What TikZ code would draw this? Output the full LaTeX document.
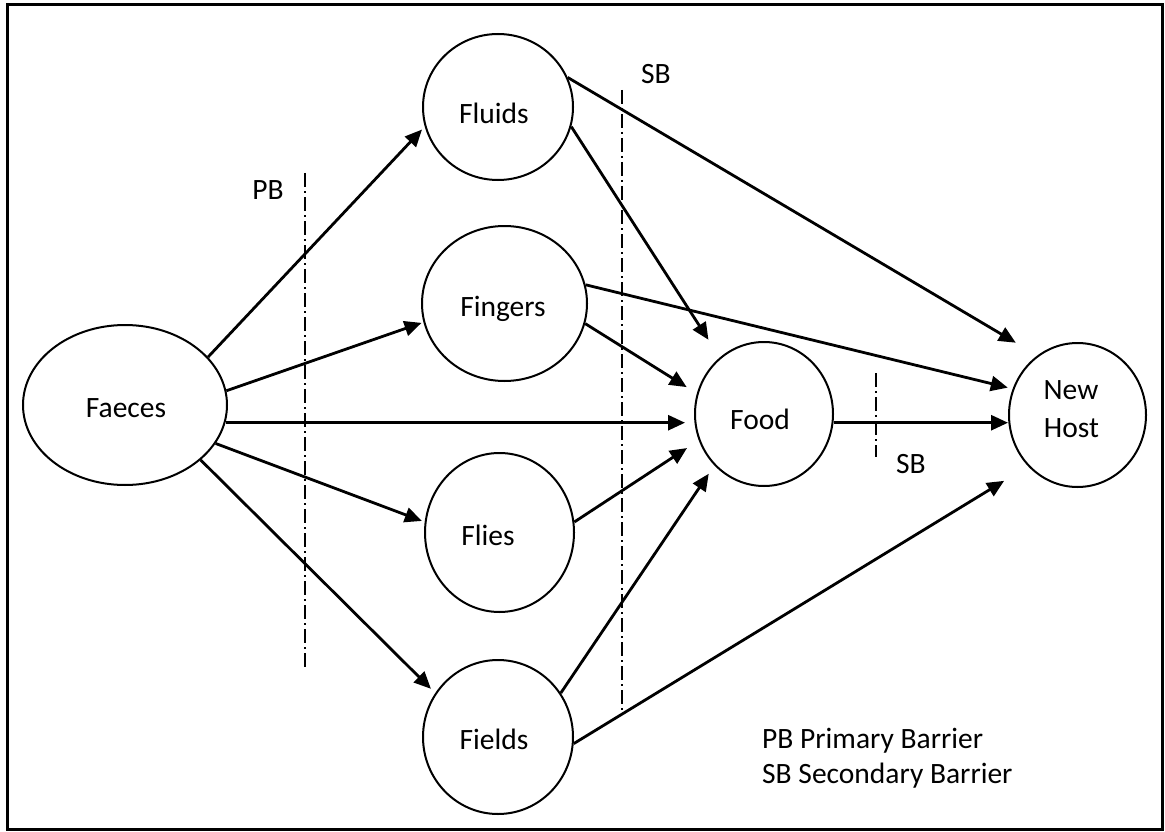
\documentclass[tikz,border=0pt]{standalone}
\usepackage{fontspec}
\setmainfont{Carlito}
\usetikzlibrary{shapes.geometric,arrows.meta,calc}
\begin{document}
\begin{tikzpicture}[x=1pt,y=-1pt,
  every node/.style={font=\fontsize{29.5}{35}\selectfont},
  blob/.style={draw, ellipse, line width=2pt, inner sep=0pt},
  lab/.style={anchor=base, inner sep=0pt},
  conn/.style={line width=2.8pt, -{Triangle[length=17pt,width=15pt]}},
  barrier/.style={line width=1.3pt, dash pattern=on 14pt off 4pt on 2pt off 4pt}]
\useasboundingbox (0,0) rectangle (1165,832);
\draw[line width=3pt] (7,5) rectangle (1162,829);

% nodes
\node[blob, minimum width=204pt, minimum height=160pt] (faeces) at (125,405) {};
\node[blob, minimum width=150pt, minimum height=146pt] (fluids) at (498,107) {};
\node[blob, minimum width=165pt, minimum height=155pt] (fingers) at (504.5,303.5) {};
\node[blob, minimum width=149pt, minimum height=159pt] (flies) at (499.5,532.5) {};
\node[blob, minimum width=150pt, minimum height=154pt] (fields) at (498,737) {};
\node[blob, minimum width=138pt, minimum height=144pt] (food) at (764,414) {};
\node[blob, minimum width=137pt, minimum height=144pt] (host) at (1077.5,415) {};

% labels
\node[lab] (faecesT) at (126,417) {Faeces};
\node[lab] (fluidsT) at (494,124) {Fluids};
\node[lab] (fingersT) at (503,316) {Fingers};
\node[lab] (fliesT) at (488,545) {Flies};
\node[lab] (fieldsT) at (494,749) {Fields};
\node[lab] (foodT) at (760,429) {Food};
\node[lab] (newT) at (1071,399) {New};
\node[lab] (hostT) at (1071.5,437) {Host};

% barriers
\coordinate (pbTop) at (305,173);
\coordinate (pbBot) at (305,668);
\coordinate (sbTop) at (622,90);
\coordinate (sbBot) at (622,710);
\coordinate (sb2Top) at (876,373);
\coordinate (sb2Bot) at (876,457);
\draw[barrier] (pbTop) -- (pbBot);
\draw[barrier] (sbTop) -- (sbBot);
\draw[barrier] (sb2Top) -- (sb2Bot);
\node[lab] (pbL) at (268,200) {PB};
\node[lab] (sbL) at (656,84) {SB};
\node[lab] (sb2L) at (911,473) {SB};

% legend
\node[lab, anchor=base west] (leg1) at (762,748) {PB Primary Barrier};
\node[lab, anchor=base west] (leg2) at (762,783) {SB Secondary Barrier};

% connectors
\draw[conn, shorten >=4pt] (faeces.30) -- (fluids.195);
\draw[conn, shorten >=2pt] (faeces.8) -- (fingers.193);
\draw[conn, shorten >=9pt] (faeces.-10) -- (food.west |- faeces.-10);
\draw[conn, shorten >=3pt] (faeces.-23) -- (flies.172);
\draw[conn, shorten >=6pt] (faeces.-36) -- (fields.145);
\draw[conn, shorten >=25pt] (fluids.23) -- (host.124);
\draw[conn, shorten >=21pt] (fluids.-15) -- (food.128);
\draw[conn, shorten >=5pt] (fingers.13) -- (host.158);
\draw[conn, shorten >=12pt] (fingers.-14) -- (food.163);
\draw[conn, shorten >=14pt] (flies.8) -- (food.202);
\draw[conn, shorten >=10pt] (fields.35) -- (food.226);
\draw[conn, shorten >=28pt] (fields.-5) -- (host.226);
\draw[conn] (food.east |- faeces.-10) -- (host.west |- faeces.-10);
\end{tikzpicture}
\end{document}
